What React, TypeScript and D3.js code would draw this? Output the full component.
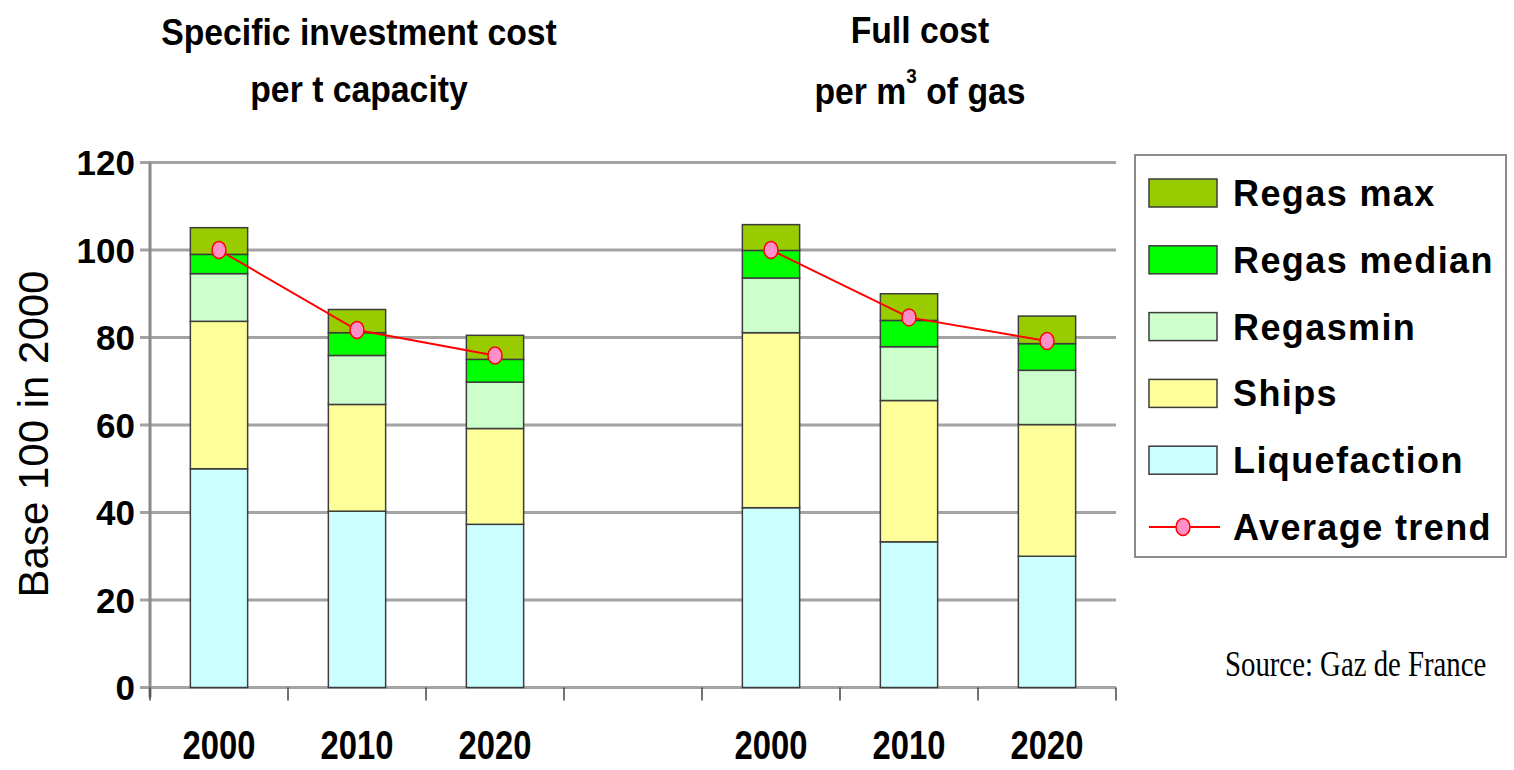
import React from "react";
import * as d3 from "d3";

// Slots along the x axis: two groups of three years, separated by an empty slot
const categories = ["a2000", "a2010", "a2020", "gap", "b2000", "b2010", "b2020"];
const categoryLabels = ["2000", "2010", "2020", "", "2000", "2010", "2020"];

// Stacked components (Base 100 in 2000), bottom to top
const liquefaction = [50, 40.3, 37.3, 0, 41.1, 33.3, 30];
const ships = [33.7, 24.4, 21.9, 0, 40, 32.3, 30.1];
const regasMin = [10.9, 11.2, 10.6, 0, 12.5, 12.3, 12.4];
const regasMedian = [4.4, 5.2, 5.2, 0, 6.3, 6.0, 6.1];
const regasMax = [6.1, 5.3, 5.5, 0, 5.9, 6.1, 6.3];
const averageTrend: (number | null)[] = [100, 81.7, 75.9, null, 100, 84.6, 79.2];

const yTicks = [0, 20, 40, 60, 80, 100, 120];

const seriesKeys = ["liquefaction", "ships", "regasMin", "regasMedian", "regasMax"];
const seriesColors: Record<string, string> = {
  liquefaction: "#ccffff",
  ships: "#ffff99",
  regasMin: "#ccffcc",
  regasMedian: "#00ff00",
  regasMax: "#99cc00",
};

const legendItems = [
  { key: "regasMax", label: "Regas max" },
  { key: "regasMedian", label: "Regas median" },
  { key: "regasMin", label: "Regasmin" },
  { key: "ships", label: "Ships" },
  { key: "liquefaction", label: "Liquefaction" },
];

const W = 1514;
const H = 770;
const plot = { left: 150, right: 1116, top: 162.5, bottom: 687.5 };
const SANS = "'Liberation Sans', Arial, Helvetica, sans-serif";
const SERIF = "'Liberation Serif', 'Times New Roman', serif";

// Horizontally condensed text helper
function Txt(props: {
  x: number;
  y: number;
  size: number;
  sx?: number;
  anchor?: "start" | "middle" | "end";
  weight?: string | number;
  family?: string;
  children: React.ReactNode;
  spacing?: number;
}) {
  const { x, y, size, sx = 1, anchor = "middle", weight = "bold", family = SANS, spacing = 0 } = props;
  return (
    <g transform={`translate(${x},${y}) scale(${sx},1)`}>
      <text
        x={0}
        y={0}
        fontSize={size}
        fontFamily={family}
        fontWeight={weight}
        textAnchor={anchor}
        letterSpacing={spacing}
        fill="#000"
      >
        {props.children}
      </text>
    </g>
  );
}

export default function App() {
  const x = d3.scaleBand<string>().domain(categories).range([plot.left, plot.right]).padding(0);
  const y = d3.scaleLinear().domain([0, 120]).range([plot.bottom, plot.top]);
  const barW = x.bandwidth() * 0.415;
  const cx = (c: string) => (x(c) as number) + x.bandwidth() / 2;

  const rows = categories.map((c, i) => ({
    cat: c,
    liquefaction: liquefaction[i],
    ships: ships[i],
    regasMin: regasMin[i],
    regasMedian: regasMedian[i],
    regasMax: regasMax[i],
  }));
  const stacked = d3.stack<any>().keys(seriesKeys)(rows);

  const trendLine = d3
    .line<number | null>()
    .defined((d) => d != null)
    .x((_, i) => cx(categories[i]))
    .y((d) => y(d as number));

  const boundaries = d3.range(categories.length + 1).map((i) => plot.left + i * x.step());

  // Legend geometry
  const lg = { x: 1135, y: 155, w: 371, h: 402, row: 66.8, first: 193 };

  return (
    <svg width={W} height={H} style={{ position: "absolute", left: 0, top: 0, background: "#fff" }}>
      <rect x={0} y={0} width={W} height={H} fill="#fff" />

      {/* Titles */}
      <Txt x={359} y={45} size={37.5} sx={0.9}>Specific investment cost</Txt>
      <Txt x={359} y={102} size={37.5} sx={0.9}>per t capacity</Txt>
      <Txt x={920} y={43} size={37.5} sx={0.9}>Full cost</Txt>
      <g transform={`translate(920,104) scale(0.9,1)`}>
        <text fontSize={37.5} fontFamily={SANS} fontWeight="bold" textAnchor="middle">
          per m<tspan fontSize={21} dy={-21}>3</tspan>
          <tspan dy={21}> of gas</tspan>
        </text>
      </g>

      {/* Gridlines */}
      {yTicks.map((t) => (
        <line key={`g${t}`} x1={plot.left - 10} x2={plot.right} y1={y(t)} y2={y(t)} stroke="#a3a3a3" strokeWidth={3} />
      ))}

      {/* Y axis */}
      <line x1={plot.left} x2={plot.left} y1={plot.top} y2={plot.bottom + 10} stroke="#8a8a8a" strokeWidth={3} />
      {yTicks.map((t) => (
        <text
          key={`yt${t}`}
          x={135}
          y={y(t)}
          dy="0.36em"
          fontSize={35}
          fontFamily={SANS}
          fontWeight="bold"
          textAnchor="end"
        >
          {t}
        </text>
      ))}
      <text
        transform={`translate(48,434) rotate(-90)`}
        fontSize={42}
        fontFamily={SANS}
        textAnchor="middle"
      >
        Base 100 in 2000
      </text>

      {/* X axis ticks */}
      {boundaries.map((b, i) => (
        <line key={`xt${i}`} x1={b} x2={b} y1={plot.bottom} y2={plot.bottom + 13} stroke="#444" strokeWidth={1.5} />
      ))}
      {categories.map((c, i) =>
        categoryLabels[i] ? (
          <Txt key={`xl${c}`} x={cx(c)} y={759} size={40} sx={0.82}>
            {categoryLabels[i]}
          </Txt>
        ) : null
      )}

      {/* Stacked bars */}
      {stacked.map((layer) => (
        <g key={layer.key} fill={seriesColors[layer.key]}>
          {layer.map((d, i) =>
            d[1] - d[0] > 0 ? (
              <rect
                key={categories[i]}
                x={cx(categories[i]) - barW / 2}
                width={barW}
                y={y(d[1])}
                height={y(d[0]) - y(d[1])}
                stroke="#3c3c3c"
                strokeWidth={1.5}
              />
            ) : null
          )}
        </g>
      ))}

      {/* Average trend */}
      <path d={trendLine(averageTrend) || ""} fill="none" stroke="#ff0000" strokeWidth={2} />
      {averageTrend.map((v, i) =>
        v != null ? (
          <ellipse key={`m${i}`} cx={cx(categories[i])} cy={y(v)} rx={7} ry={8.5} fill="#ff8fc8" stroke="#ff0000" strokeWidth={1.5} />
        ) : null
      )}

      {/* Legend */}
      <rect x={lg.x} y={lg.y} width={lg.w} height={lg.h} fill="#fff" stroke="#8c8c8c" strokeWidth={2} />
      {legendItems.map((it, i) => {
        const cy = lg.first + i * lg.row;
        return (
          <g key={it.key}>
            <rect x={1149} y={cy - 14} width={68} height={28} fill={seriesColors[it.key]} stroke="#3c3c3c" strokeWidth={1.5} />
            <text x={1233} y={cy} dy="0.36em" fontSize={36} fontFamily={SANS} fontWeight="bold" letterSpacing={1.4}>
              {it.label}
            </text>
          </g>
        );
      })}
      {(() => {
        const cy = lg.first + 5 * lg.row;
        return (
          <g>
            <line x1={1149} x2={1220} y1={cy} y2={cy} stroke="#ff0000" strokeWidth={2} />
            <ellipse cx={1183} cy={cy} rx={7} ry={8.5} fill="#ff8fc8" stroke="#ff0000" strokeWidth={1.5} />
            <text x={1233} y={cy} dy="0.36em" fontSize={36} fontFamily={SANS} fontWeight="bold" letterSpacing={1.4}>
              Average trend
            </text>
          </g>
        );
      })()}

      {/* Source */}
      <Txt x={1225} y={676} size={36} sx={0.8} anchor="start" weight="normal" family={SERIF}>
        Source: Gaz de France
      </Txt>
    </svg>
  );
}
